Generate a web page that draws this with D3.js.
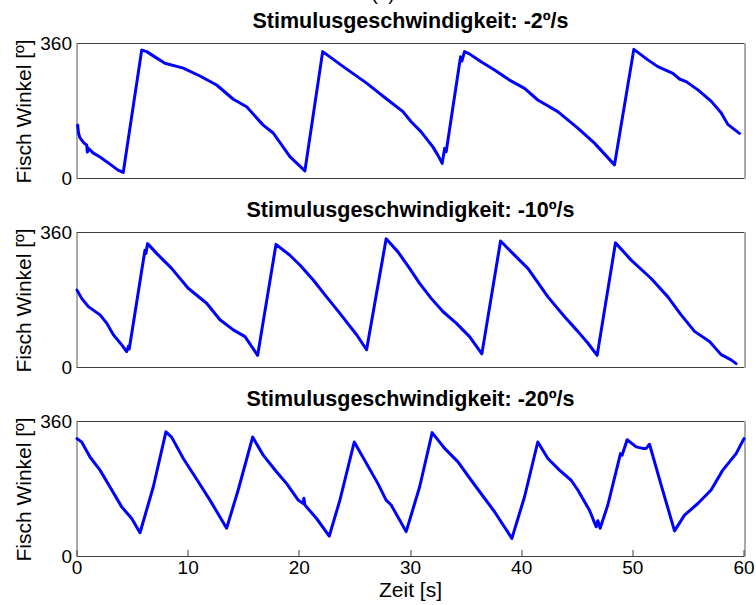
<!DOCTYPE html>
<html>
<head>
<meta charset="utf-8">
<script src="https://cdn.jsdelivr.net/npm/d3@7"></script>
<style>
  html, body { margin: 0; padding: 0; background: #fff; }
  svg { display: block; font-family: "Liberation Sans", Arial, sans-serif; }
</style>
</head>
<body>
<svg id="chart" width="756" height="605"></svg>
<script>
// Fish orientation over time for three stimulus speeds
const titles = [
  "Stimulusgeschwindigkeit: -2º/s",
  "Stimulusgeschwindigkeit: -10º/s",
  "Stimulusgeschwindigkeit: -20º/s"
];

// -2º/s
const time2 = [0.06,0.13,0.27,0.63,0.87,0.93,1.0,1.44,2.07,2.97,3.69,4.16,
  5.82,6.27,7.0,7.91,9.56,11.06,12.56,14.06,15.26,16.75,17.65,19.15,20.5,
  22.1,23.95,26.05,27.07,27.97,29.32,30.06,30.96,32.01,32.46,32.85,33.07,33.21,
  34.5,34.62,34.86,35.3,36.35,37.56,38.91,40.26,41.45,43.25,45.05,46.55,48.35,
  50.09,51.35,52.25,53.6,54.2,54.8,55.85,57.04,57.94,58.54,59.59];
const angle2 = [141,120,107,93,88,69,80,67,56,37,21,15,
  341,337,323,306,293,272,248,210,190,141,120,57,19,
  337,297,253,229,208,177,150,123,83,61,39,79,70,
  323,312,337,331,310,288,261,239,208,177,133,93,35,
  343,315,297,279,264,257,235,205,174,143,119];

// -10º/s
const time10 = [0,0.42,1.02,2.07,2.67,3.27,4.02,4.47,4.62,4.7,
  6.11,6.2,6.35,7.16,8.51,10.0,11.66,12.86,14.06,15.11,16.25,
  17.9,19.15,20.05,21.25,22.45,23.65,25.15,26.05,
  27.81,28.87,29.92,30.82,31.86,32.91,34.11,35.31,36.42,
  38.1,39.2,40.56,42.36,43.86,45.05,45.95,46.79,
  48.44,49.85,51.65,53.15,54.34,55.55,56.9,57.94,58.84,59.29];
const angle10 = [205,183,161,139,117,86,59,41,55,48,
  311,303,329,303,263,210,170,126,99,81,31,
  327,298,272,232,187,143,86,46,
  342,307,263,223,183,148,117,81,35,
  336,303,263,187,134,95,64,31,
  331,285,236,187,139,95,68,33,19,9];

// -20º/s
const time20 = [0,0.42,1.17,2.07,2.97,4.02,4.92,5.67,6.86,8.0,8.51,9.56,10.91,
  11.96,13.46,14.5,15.8,16.75,17.96,18.86,19.9,20.35,20.41,20.5,21.55,22.69,
  23.65,24.94,27.07,27.81,28.26,29.61,30.82,31.95,33.07,34.27,35.46,36.66,
  37.56,39.12,40.26,41.45,42.36,43.4,44.45,45.05,46.1,46.7,46.85,47.06,47.75,
  48.89,49.04,49.2,49.49,50.3,50.9,51.2,51.5,52.55,53.75,54.65,55.85,57.04,
  58.09,59.29,60];
const angle20 = [313,304,264,229,184,131,100,62,184,331,317,260,198,
  149,74,176,317,269,224,193,149,140,154,136,100,53,
  149,304,193,149,136,65,184,329,287,251,202,154,
  118,47,158,304,260,229,202,176,122,78,94,74,136,
  273,269,284,310,291,287,287,298,189,67,109,140,176,
  229,273,313];

const series = [
  { title: titles[0], t: time2, a: angle2 },
  { title: titles[1], t: time10, a: angle10 },
  { title: titles[2], t: time20, a: angle20 }
];

const xTicks = [0, 10, 20, 30, 40, 50, 60];
const yTicks = [0, 360];

const svg = d3.select("#chart");
const left = 77, right = 744;
const panelTop0 = 43, panelStep = 189, panelH = 135;

const x = d3.scaleLinear().domain([0, 60]).range([left, right]);

// figure label, mostly clipped at the top edge
svg.append("text")
  .attr("x", 383).attr("y", 0)
  .attr("text-anchor", "middle")
  .attr("font-size", 19)
  .text("(a)");

series.forEach((s, i) => {
  const top = panelTop0 + i * panelStep;
  const bottom = top + panelH;
  const y = d3.scaleLinear().domain([0, 360]).range([bottom, top]);
  const g = svg.append("g");

  // frame
  g.append("line").attr("x1", left).attr("x2", right).attr("y1", top + 0.5).attr("y2", top + 0.5)
    .attr("stroke", "#404040");
  g.append("line").attr("x1", left).attr("x2", right).attr("y1", bottom + 0.5).attr("y2", bottom + 0.5)
    .attr("stroke", "#404040");
  g.append("line").attr("x1", left).attr("x2", left).attr("y1", top).attr("y2", bottom + 1)
    .attr("stroke", "#555");
  g.append("line").attr("x1", right + 1).attr("x2", right + 1).attr("y1", top).attr("y2", bottom + 1)
    .attr("stroke", "#555");

  // y tick labels
  g.selectAll(".ytl").data(yTicks).enter().append("text")
    .attr("x", 72)
    .attr("y", d => y(d) + 6.5)
    .attr("text-anchor", "end")
    .attr("font-size", 19)
    .text(d => d);

  // y axis label
  g.append("text")
    .attr("transform", `translate(31,${(top + bottom) / 2 + 1}) rotate(-90)`)
    .attr("text-anchor", "middle")
    .attr("font-size", 21)
    .text("Fisch Winkel [º]");

  // title
  g.append("text")
    .attr("x", (left + right) / 2)
    .attr("y", top - 15)
    .attr("text-anchor", "middle")
    .attr("font-size", 21.5)
    .attr("font-weight", "bold")
    .text(s.title);

  // trace
  const line = d3.line().x(d => x(d[0])).y(d => y(d[1]));
  const pts = s.t.map((t, k) => [t, s.a[k]]);
  g.append("path")
    .datum(pts)
    .attr("d", line)
    .attr("fill", "none")
    .attr("stroke", "#0000ff")
    .attr("stroke-width", 3)
    .attr("stroke-linejoin", "round")
    .attr("stroke-linecap", "round");

  if (i === series.length - 1) {
    // x ticks point inward from the bottom edge
    g.selectAll(".xt").data(xTicks).enter().append("line")
      .attr("x1", d => Math.round(x(d))).attr("x2", d => Math.round(x(d)))
      .attr("y1", bottom).attr("y2", bottom - 6)
      .attr("stroke", "#404040");
    g.selectAll(".xtl").data(xTicks).enter().append("text")
      .attr("x", d => x(d))
      .attr("y", bottom + 18)
      .attr("text-anchor", "middle")
      .attr("font-size", 19)
      .text(d => d);
    g.append("text")
      .attr("x", (left + right) / 2)
      .attr("y", bottom + 41)
      .attr("text-anchor", "middle")
      .attr("font-size", 21)
      .text("Zeit [s]");
  }
});
</script>
</body>
</html>
